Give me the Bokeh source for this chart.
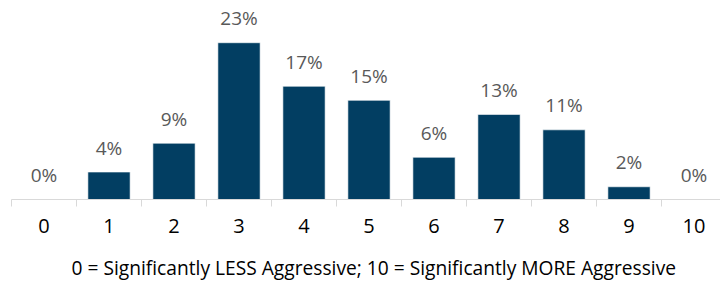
from bokeh.plotting import figure
from bokeh.models import ColumnDataSource, Range1d, FixedTicker, LabelSet, Title
from bokeh.embed import file_html
from bokeh.resources import INLINE
from bokeh.core.properties import value

categories = ["0", "1", "2", "3", "4", "5", "6", "7", "8", "9", "10"]
shares = [0.0, 4.1, 8.4, 23.4, 16.9, 14.8, 6.3, 12.7, 10.4, 1.9, 0.0]
share_labels = ["0%", "4%", "9%", "23%", "17%", "15%", "6%", "13%", "11%", "2%", "0%"]
axis_title = "0 = Significantly LESS Aggressive; 10 = Significantly MORE Aggressive"

FONT = "Open Sans"
xs = list(range(len(categories)))
src = ColumnDataSource(dict(x=xs, y=shares, lab=share_labels))

cat_px = 65.0
left_px = 11.0
px_per_unit = 6.7
FW = 720
FH = 199
x0 = -0.5 - left_px / cat_px
p = figure(
    frame_width=FW, frame_height=FH,
    x_range=Range1d(x0, x0 + FW / cat_px),
    y_range=Range1d(0, FH / px_per_unit),
    output_backend="svg", toolbar_location=None,
    y_axis_location=None,
    min_border_left=0, min_border_right=0, min_border_top=0, min_border_bottom=0,
)
p.grid.visible = False
p.outline_line_color = None

p.vbar(x="x", top="y", width=0.65, source=src, fill_color="#023e62",
       line_color="white", line_width=0.6)

labels = LabelSet(x="x", y="y", text="lab", source=src, text_align="center",
                  text_baseline="alphabetic", y_offset=17.5,
                  text_font=value(FONT), text_font_size="19px", text_color="#595959")
p.add_layout(labels)

ax = p.xaxis[0]
ax.ticker = FixedTicker(ticks=xs, minor_ticks=[i - 0.5 for i in range(len(categories) + 1)])
ax.major_label_overrides = {i: c for i, c in enumerate(categories)}
ax.bounds = (-0.5, len(categories) - 0.5)
ax.axis_line_color = "#d9d9d9"
ax.axis_line_width = 1
ax.major_tick_out = 0
ax.major_tick_in = 0
ax.minor_tick_out = 7
ax.minor_tick_in = 0
ax.minor_tick_line_color = "#d9d9d9"
ax.major_label_standoff = 12
ax.major_label_text_font = FONT
ax.major_label_text_font_size = "20px"
ax.major_label_text_color = "#000000"

title = Title(text=axis_title, align="left", offset=71, standoff=32,
              text_font=FONT, text_font_size="19.2px", text_font_style="normal",
              text_color="#000000")
p.add_layout(title, "below")

open("out.html", "w").write(file_html(p, INLINE))
